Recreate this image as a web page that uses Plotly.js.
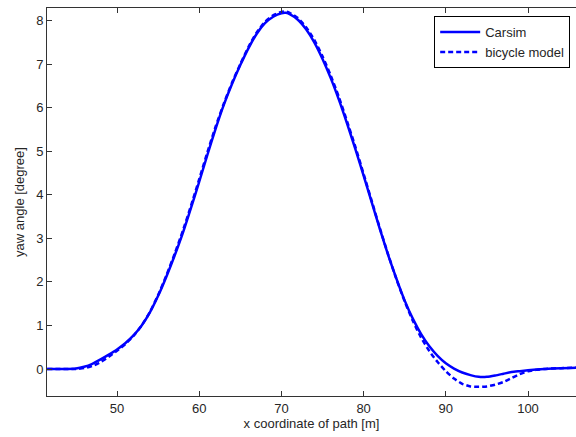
<!DOCTYPE html>
<html>
<head>
<meta charset="utf-8">
<script src="https://cdn.plot.ly/plotly-3.0.1.min.js"></script>
<style>html,body{margin:0;padding:0;background:#fff;}#plot{width:576px;height:437px;}</style>
</head>
<body>
<div id="plot"></div>
<script>
// x coordinate of path [m]
const carsimX = [41.5, 44, 45, 46, 47, 48, 49, 50, 51, 52, 53, 54, 55, 56, 57, 58, 59, 60, 61, 62, 63, 64, 65, 66, 67, 68, 69, 70, 70.5, 71, 72, 73, 74, 75, 76, 77, 78, 79, 80, 81, 82, 83, 84, 85, 86, 87, 88, 89, 90, 91, 92, 93, 94, 95, 96, 97, 98, 99, 100, 102, 104, 106];
// yaw angle [degree]
const carsimY = [0, 0, 0.01, 0.05, 0.12, 0.22, 0.33, 0.45, 0.59, 0.77, 1.0, 1.3, 1.68, 2.12, 2.6, 3.12, 3.7, 4.3, 4.92, 5.52, 6.07, 6.55, 6.98, 7.37, 7.7, 7.94, 8.09, 8.17, 8.18, 8.15, 8.02, 7.8, 7.5, 7.12, 6.68, 6.18, 5.63, 5.05, 4.44, 3.82, 3.2, 2.61, 2.07, 1.57, 1.15, 0.8, 0.52, 0.3, 0.13, 0.01, -0.08, -0.14, -0.18, -0.18, -0.15, -0.11, -0.07, -0.05, -0.03, 0, 0.02, 0.03];

const bikeX = [41.5, 45, 46, 47, 48, 49, 50, 51, 52, 53, 54, 55, 56, 57, 58, 59, 60, 61, 62, 63, 64, 65, 66, 67, 68, 69, 70, 70.5, 71, 72, 73, 74, 75, 76, 77, 78, 79, 80, 81, 82, 83, 84, 85, 86, 87, 88, 89, 90, 91, 92, 93, 94, 95, 96, 97, 98, 99, 100, 101, 102, 104, 106];
const bikeY = [0, 0, 0.02, 0.07, 0.16, 0.28, 0.42, 0.57, 0.76, 1.0, 1.31, 1.7, 2.15, 2.64, 3.17, 3.75, 4.36, 4.98, 5.57, 6.1, 6.58, 7.0, 7.4, 7.73, 7.97, 8.12, 8.2, 8.21, 8.18, 8.06, 7.85, 7.56, 7.18, 6.74, 6.24, 5.68, 5.1, 4.48, 3.85, 3.22, 2.62, 2.06, 1.55, 1.1, 0.72, 0.41, 0.16, -0.05, -0.22, -0.34, -0.4, -0.41, -0.4, -0.36, -0.3, -0.21, -0.12, -0.05, -0.02, 0, 0.02, 0.03];

const seriesNames = ["Carsim", "bicycle model"];
const xTicks = [50, 60, 70, 80, 90, 100];
const yTicks = [0, 1, 2, 3, 4, 5, 6, 7, 8];

const font = {family: "Liberation Sans, Arial, sans-serif", size: 13, color: "#262626"};

const traces = [
  {x: carsimX, y: carsimY, name: seriesNames[0], mode: "lines", line: {color: "#0000ff", width: 2.5, shape: "spline", smoothing: 0.6}},
  {x: bikeX, y: bikeY, name: seriesNames[1], mode: "lines", line: {color: "#0000ff", width: 2.5, dash: "5px,3px", shape: "spline", smoothing: 0.6}}
];

const layout = {
  width: 576, height: 437,
  margin: {l: 47, r: 0, t: 8, b: 41},
  paper_bgcolor: "#fff", plot_bgcolor: "#fff",
  font: font,
  showlegend: true,
  legend: {x: 0.989, xanchor: "right", y: 0.979, yanchor: "top", bordercolor: "#000", borderwidth: 1, bgcolor: "#fff", font: font, tracegroupgap: 0, itemwidth: 40},
  xaxis: {
    range: [41.48, 105.84], tickvals: xTicks, ticktext: xTicks.map(String),
    ticks: "inside", ticklen: 5, tickcolor: "#333", showline: true, linecolor: "#333", linewidth: 1, mirror: "ticks",
    showgrid: false, zeroline: false, tickfont: font,
    title: {text: "x coordinate of path [m]", font: font, standoff: 4}
  },
  yaxis: {
    range: [-0.62, 8.29], tickvals: yTicks, ticktext: yTicks.map(String),
    ticks: "inside", ticklen: 5, tickcolor: "#333", showline: true, linecolor: "#333", linewidth: 1, mirror: false,
    showgrid: false, zeroline: false, tickfont: font,
    title: {text: "yaw angle [degree]", font: font, standoff: 8}
  }
};

Plotly.newPlot("plot", traces, layout, {displayModeBar: false, staticPlot: true});
</script>
</body>
</html>
